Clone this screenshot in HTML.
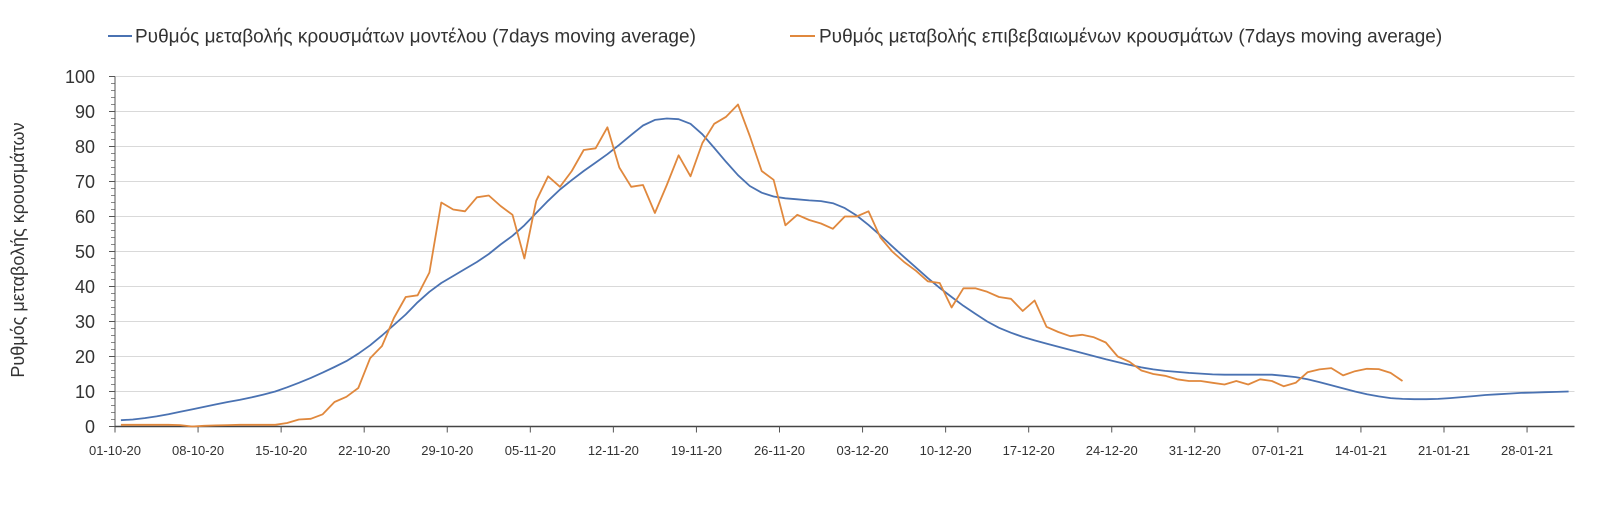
<!DOCTYPE html>
<html><head><meta charset="utf-8"><style>
body{margin:0;background:#fff;width:1614px;height:509px;overflow:hidden;font-family:"Liberation Sans",sans-serif}
</style></head><body>
<svg id="chart" width="1614" height="509" xmlns="http://www.w3.org/2000/svg">
<g>
<g><line x1="108" y1="36" x2="132" y2="36" stroke="#4a72b2" stroke-width="2"/><text x="135" y="42.5" font-size="19" fill="#333">Ρυθμός μεταβολής κρουσμάτων μοντέλου (7days moving average)</text></g>
<g><line x1="790" y1="36" x2="815" y2="36" stroke="#e0883d" stroke-width="2"/><text x="819" y="42.5" font-size="19" fill="#333">Ρυθμός μεταβολής επιβεβαιωμένων κρουσμάτων (7days moving average)</text></g>
</g>
<text transform="translate(24,250) rotate(-90)" text-anchor="middle" font-size="18" fill="#333">Ρυθμός μεταβολής κρουσμάτων</text>
<g id="grid"></g><g id="yaxis"></g><g id="xaxis"></g><g id="series"></g>
</svg>
<script>
const yTicks=[0,10,20,30,40,50,60,70,80,90,100];
const xTickLabels=["01-10-20","08-10-20","15-10-20","22-10-20","29-10-20","05-11-20","12-11-20","19-11-20","26-11-20","03-12-20","10-12-20","17-12-20","24-12-20","31-12-20","07-01-21","14-01-21","21-01-21","28-01-21"];
const modelValues=[1.8,2.0,2.4,2.9,3.5,4.2,4.9,5.6,6.3,7.0,7.6,8.3,9.1,10.0,11.2,12.5,13.9,15.4,17.0,18.7,20.8,23.2,26.0,29.0,32.0,35.5,38.5,41.0,43.0,45.0,47.0,49.3,52.0,54.5,57.5,61.0,64.5,67.7,70.4,73.0,75.4,77.8,80.5,83.3,86.0,87.6,88.0,87.8,86.5,83.5,79.6,75.6,71.8,68.7,66.8,65.7,65.2,64.9,64.6,64.4,63.8,62.4,60.3,57.6,54.6,51.5,48.4,45.4,42.4,39.6,37.0,34.5,32.2,30.0,28.2,26.8,25.6,24.6,23.7,22.8,21.9,21.0,20.1,19.2,18.4,17.6,16.9,16.3,15.9,15.6,15.3,15.1,14.9,14.8,14.8,14.8,14.8,14.8,14.5,14.1,13.5,12.7,11.8,10.9,10.0,9.2,8.6,8.1,7.9,7.8,7.8,7.9,8.1,8.4,8.7,9.0,9.2,9.4,9.6,9.7,9.8,9.9,10.0];
const confirmedValues=[0.5,0.5,0.5,0.5,0.5,0.4,0,0.2,0.3,0.4,0.5,0.5,0.5,0.5,1,2,2.2,3.5,7,8.5,11,19.5,23,31,37,37.5,44,64,62,61.5,65.5,66,63,60.5,48,64.5,71.5,68.5,73,79,79.5,85.5,74,68.5,69,61,69,77.5,71.5,81,86.5,88.5,92,83,73,70.5,57.5,60.5,59,58,56.5,60,60,61.5,54,50,47,44.5,41.5,41,34,39.5,39.5,38.5,37,36.5,33,36,28.5,27,25.8,26.2,25.5,24,20,18.5,16,15,14.5,13.5,13,13,12.5,12,13,12,13.5,13,11.5,12.5,15.5,16.3,16.7,14.6,15.8,16.5,16.4,15.3,13];
const NS="http://www.w3.org/2000/svg";
const X0=115,DX=11.866,Y0=426.5,YS=3.5,NCAT=123,XR=X0+NCAT*DX;
function xs(i){return X0+(i+0.5)*DX;}
function ys(v){return Y0-v*YS;}
function mk(tag,attrs,parent){const e=document.createElementNS(NS,tag);for(const k in attrs)e.setAttribute(k,attrs[k]);parent.appendChild(e);return e;}
const grid=document.getElementById('grid'),ya=document.getElementById('yaxis'),xa=document.getElementById('xaxis'),se=document.getElementById('series');
yTicks.forEach(t=>{
 if(t>0){const g=mk('line',{x1:X0,x2:XR,y1:ys(t),y2:ys(t),stroke:'#d9d9d9','stroke-width':1},grid);
 
 }
 const tx=mk('text',{x:95,y:ys(t)+6.5,'text-anchor':'end','font-size':18,fill:'#333'},ya);tx.textContent=t;
 
 
 mk('line',{x1:X0-6,x2:X0,y1:ys(t),y2:ys(t),stroke:'#555'},ya);
});
for(let v=2;v<100;v+=2){if(v%10)mk('line',{x1:X0-4,x2:X0,y1:ys(v),y2:ys(v),stroke:'#888'},ya);}
const yl=mk('line',{x1:X0,x2:X0,y1:ys(100),y2:Y0,stroke:'#555'},ya);


const xl=mk('line',{x1:X0,x2:XR,y1:Y0,y2:Y0,stroke:'#444','stroke-width':1.5},xa);


xTickLabels.forEach((l,k)=>{
 const x=X0+k*7*DX;
 mk('line',{x1:x,x2:x,y1:Y0,y2:Y0+6,stroke:'#555'},xa);
 const tx=mk('text',{x:x,y:455,'text-anchor':'middle','font-size':13,fill:'#333'},xa);tx.textContent=l;
 
 
});
function line(vals,color,name){
 const p=mk('polyline',{points:vals.map((v,i)=>xs(i).toFixed(1)+','+ys(v).toFixed(1)).join(' '),fill:'none',stroke:color,'stroke-width':1.8,'stroke-linejoin':'round'},se);
 
 
}
line(modelValues,'#4a72b2','model-series-line');
line(confirmedValues,'#e0883d','confirmed-series-line');
</script>
</body></html>
